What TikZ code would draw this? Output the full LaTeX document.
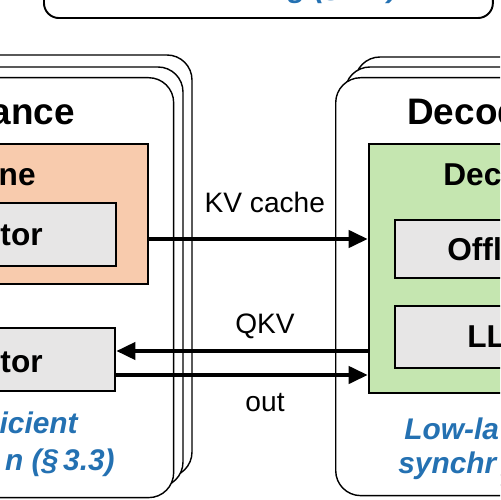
\documentclass[tikz,border=0pt]{standalone}
\usepackage{fontspec}
\setmainfont{Liberation Sans}
\usetikzlibrary{arrows.meta,positioning}
\definecolor{engorange}{RGB}{248,203,173}
\definecolor{enggreen}{RGB}{197,230,176}
\definecolor{execgrey}{RGB}{231,230,230}
\definecolor{noteblue}{RGB}{36,113,178}

\begin{document}
\begin{tikzpicture}[x=0.02cm,y=-0.02cm,
  stacklayer/.style={draw,line width=0.8pt,rounded corners=0.5cm,fill=white},
  enginebox/.style={draw,line width=1pt,inner sep=0pt},
  execbox/.style={draw,line width=1.2pt,fill=execgrey,inner sep=0pt},
  titletxt/.style={font=\fontsize{21}{25}\selectfont\bfseries,inner sep=0pt},
  boxtxt/.style={font=\fontsize{18}{21}\selectfont\bfseries,inner sep=0pt},
  flow/.style={line width=2.8pt,-{Triangle[length=11pt,width=9.5pt]}},
  flowtxt/.style={font=\fontsize{16}{19}\selectfont,inner sep=0pt,anchor=base},
  bluenote/.style={font=\fontsize{17}{20}\selectfont\bfseries\itshape,text=noteblue,inner sep=0pt}]
\clip (0,0) rectangle (500,500);

% offloading box (top)
\node[draw,line width=1.1pt,rounded corners=0.3cm,inner sep=0pt,
  minimum width=8.98cm,minimum height=1.6cm,anchor=south west] (sched) at (43,19) {};
\node[bluenote,anchor=base east] (schedtxt) at (398,-2) {g (\S\,3.4)};

% prefill side
\draw[stacklayer] (-60,55) rectangle (192,477);
\draw[stacklayer] (-60,67) rectangle (183,487);
\node[stacklayer,anchor=north west,minimum width=4.66cm,minimum height=8.4cm] (pinst) at (-60,77) {};
\node[titletxt,anchor=base east] (ptitle) at (75,125) {ance};
\node[enginebox,fill=engorange,anchor=north west,minimum width=4.14cm,minimum height=2.8cm] (peng) at (-60,143) {};
\node[boxtxt,anchor=base east] (pengtxt) at (36,185) {ne};
\node[execbox,anchor=north west,minimum width=3.5cm,minimum height=1.26cm] (pexec) at (-60,202) {};
\node[boxtxt,anchor=base east] (pexectxt) at (43,245) {tor};
\node[execbox,anchor=north west,minimum width=3.48cm,minimum height=1.26cm] (aexec) at (-60,327) {};
\node[boxtxt,anchor=base east] (aexectxt) at (43,372) {tor};
\node[bluenote,anchor=base east] (pnote1) at (78,433) {icient};
\node[bluenote,anchor=base east] (pnote2) at (115,470) {n (\S\,3.3)};

% decode side
\draw[stacklayer] (355,57) rectangle (560,475);
\draw[stacklayer] (345,67) rectangle (560,485);
\node[stacklayer,anchor=north west,minimum width=4.5cm,minimum height=8.36cm] (dinst) at (335,77) {};
\node[titletxt,anchor=base west] (dtitle) at (407,125) {Decod};
\node[enginebox,fill=enggreen,anchor=north west,minimum width=3.84cm,minimum height=4.98cm] (deng) at (368,143) {};
\node[boxtxt,anchor=base west] (dengtxt) at (443,185) {Dec};
\node[execbox,anchor=north west,minimum width=3.32cm,minimum height=1.16cm] (oexec) at (394,219) {};
\node[boxtxt,anchor=base west] (oexectxt) at (447,260) {Offl};
\node[execbox,anchor=north west,minimum width=3.32cm,minimum height=1.24cm] (lexec) at (394,305) {};
\node[boxtxt,anchor=base west] (lexectxt) at (467,347) {LL};
\node[bluenote,anchor=base west] (dnote1) at (404,439) {Low-la};
\node[bluenote,anchor=base west] (dnote2) at (398,473) {synchr};

% transfers
\coordinate (kvrow) at (0,239);
\coordinate (qkvrow) at (0,351);
\coordinate (outrow) at (0,375);
\draw[flow] (peng.east |- kvrow) -- node[flowtxt,yshift=0.54cm,xshift=0.13cm] {KV cache} (deng.west |- kvrow);
\draw[flow] (deng.west |- qkvrow) -- node[flowtxt,yshift=0.36cm,xshift=0.46cm] {QKV} (aexec.east |- qkvrow);
\draw[flow] (aexec.east |- outrow) -- node[flowtxt,yshift=-0.74cm,xshift=0.46cm] {out} (deng.west |- outrow);

\end{tikzpicture}
\end{document}
